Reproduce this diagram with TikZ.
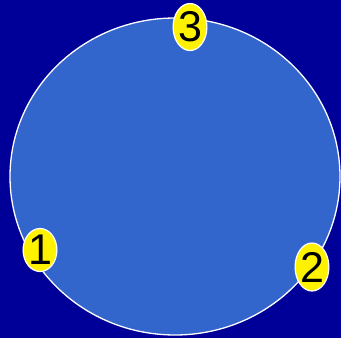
\documentclass[tikz,border=0pt]{standalone}
\usepackage{fontspec}
\setmainfont{Liberation Sans}
\usetikzlibrary{shapes.geometric}
\definecolor{bgblue}{HTML}{000099}
\definecolor{diskblue}{HTML}{3366CC}

\begin{document}
\begin{tikzpicture}[
        x=1pt, y=-1pt,
        disk/.style={ellipse, draw=white, line width=1.3pt, fill=diskblue,
                     minimum width=330pt, minimum height=317pt, inner sep=0pt},
        num/.style={ellipse, draw=white, line width=1.2pt, fill=yellow,
                    inner sep=0pt, text=black,
                    font=\fontsize{43}{43}\selectfont},
    ]
    \fill[bgblue] (0,0) rectangle (341,338);
    \useasboundingbox (0,0) rectangle (341,338);

    \node[disk] (rim) at (175,176.5) {};

    \node[num, minimum width=32pt, minimum height=43pt] (one)   at (40,250)  {1};
    \node[num, minimum width=31pt, minimum height=48pt] (two)   at (312,267) {2};
    \node[num, minimum width=28pt, minimum height=47pt] (three) at (190,27)  {3};
\end{tikzpicture}
\end{document}
